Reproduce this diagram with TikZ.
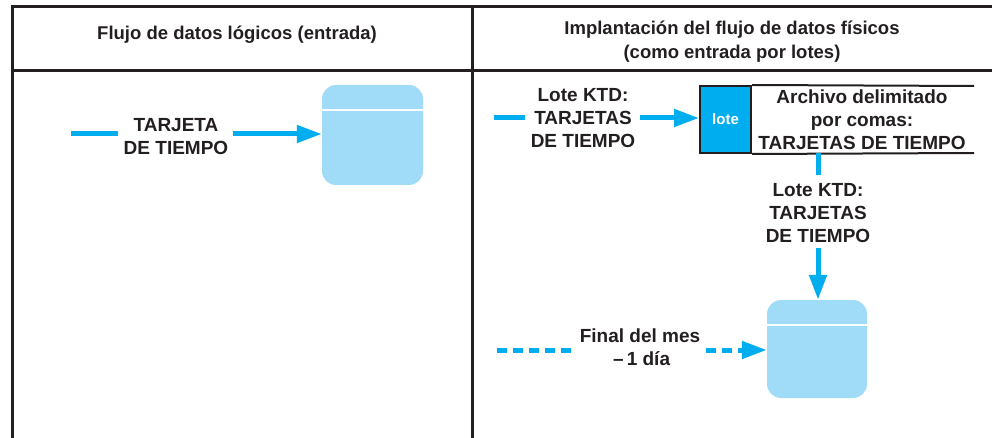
\documentclass[tikz,border=0pt]{standalone}
\usepackage{fontspec}
\setmainfont{Liberation Sans}
\usetikzlibrary{arrows.meta}
\definecolor{cy}{HTML}{00AEEF}
\definecolor{st}{HTML}{A0DCF7}
\definecolor{ink}{HTML}{231F20}
\begin{document}
\begin{tikzpicture}[x=1pt,y=-1pt,
 lbl/.style={font=\bfseries\fontsize{19}{23}\selectfont, text=ink, align=center, inner sep=0pt},
 hdr/.style={font=\bfseries\fontsize{18.5}{24}\selectfont, text=ink, align=center, inner sep=0pt},
 rule/.style={draw=ink, line width=3pt},
 flow/.style={draw=cy, line width=5pt},
 arr/.style={flow, -{Triangle[length=25pt,width=17pt]}},
 dflow/.style={flow, dash pattern=on 10pt off 6pt},
 store/.style={fill=st, rounded corners=14pt, inner sep=0pt},
 divline/.style={draw=white, line width=2pt},
 boxline/.style={draw=ink, line width=2pt}
]
\useasboundingbox (0,0) rectangle (992,438);
% table
\coordinate (tl) at (12,7);
\coordinate (tr) at (992,7);
\coordinate (bl) at (12,438);
\coordinate (hl) at (12,71);
\coordinate (hr) at (992,71);
\coordinate (mt) at (472,7);
\coordinate (mb) at (472,438);
\draw[rule] (bl) -- (tl) -- (tr);
\draw[rule] (hl) -- (hr);
\draw[rule] (mt) -- (mb);
\node[hdr] (h1) at (237,35) {Flujo de datos lógicos (entrada)};
\node[hdr] (h2) at (732,42) {Implantación del flujo de datos físicos\\(como entrada por lotes)};

% left panel
\node[store, minimum width=101pt, minimum height=100pt] (s1) at (372.5,135) {};
\draw[divline] (322,110) -- (423,110);
\coordinate (a0) at (71,134);
\coordinate (a1) at (118,134);
\coordinate (a2) at (233,134);
\draw[flow] (a0) -- (a1);
\node[lbl] (t1) at (176,137) {TARJETA\\DE TIEMPO};
\draw[arr] (a2) -- (s1.west |- a2);

% right panel: file
\node[draw=ink, line width=2pt, fill=cy, minimum width=51pt, minimum height=67pt, inner sep=0pt,
      font=\bfseries\fontsize{15}{18}\selectfont, text=white] (lb) at (725.5,119.5) {lote};
\coordinate (fe1) at (974,86);
\coordinate (fe2) at (974,153);
\draw[boxline] (lb.north east) -- (fe1);
\draw[boxline] (lb.south east) -- (fe2);
\node[lbl] (ft) at (862,119.5) {Archivo delimitado\\por comas:\\TARJETAS DE TIEMPO};

\coordinate (b0) at (494,118);
\coordinate (b1) at (525,118);
\coordinate (b2) at (640,118);
\draw[flow] (b0) -- (b1);
\node[lbl] (t2) at (583,118.5) {Lote KTD:\\TARJETAS\\DE TIEMPO};
\draw[arr] (b2) -- (lb.west |- b2);

% right panel: store
\node[store, minimum width=100pt, minimum height=98pt] (s2) at (817,349) {};
\draw[divline] (767,325) -- (867,325);
\coordinate (c0) at (818,153);
\coordinate (c1) at (818,175);
\coordinate (c2) at (818,248);
\draw[flow] (c0) -- (c1);
\node[lbl] (t3) at (818,213.5) {Lote KTD:\\TARJETAS\\DE TIEMPO};
\draw[arr] (c2) -- (c2 |- s2.north);

\coordinate (d0) at (497,350);
\coordinate (d1) at (573,350);
\coordinate (d2) at (706,350);
\draw[dflow] (d0) -- (d1);
\node[lbl] (t4) at (640,347) {Final del mes\\\,–\,1 día};
\draw[arr, dash pattern=on 10pt off 6pt] (d2) -- (s2.west |- d2);
\end{tikzpicture}
\end{document}
